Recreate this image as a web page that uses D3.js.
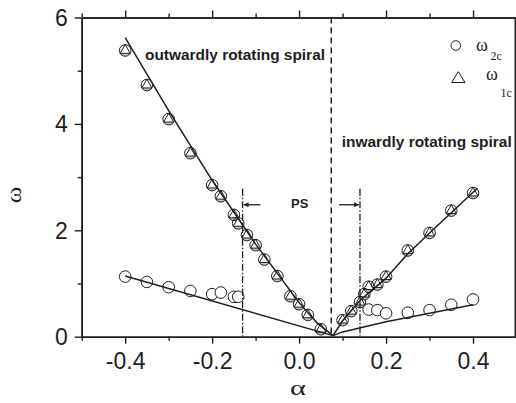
<!DOCTYPE html>
<html>
<head>
<meta charset="utf-8">
<script src="https://cdn.jsdelivr.net/npm/d3@7/dist/d3.min.js"></script>
<style>
  html, body { margin: 0; padding: 0; background: #fff; }
  svg { display: block; }
</style>
</head>
<body>
<div id="chart"></div>
<script>
// upper branch: omega_1c and omega_2c coincide (triangle inside circle)
const upperAlpha = [-0.4, -0.35, -0.3, -0.25, -0.2, -0.18, -0.15, -0.14, -0.12, -0.1, -0.08, -0.05, -0.02, 0, 0.02, 0.05,
  0.1, 0.12, 0.14, 0.15, 0.16, 0.18, 0.2, 0.25, 0.3, 0.35, 0.4];
const upperOmega = [5.38, 4.73, 4.09, 3.45, 2.85, 2.64, 2.29, 2.13, 1.91, 1.72, 1.45, 1.14, 0.76, 0.61, 0.41, 0.14,
  0.31, 0.48, 0.65, 0.80, 0.94, 0.98, 1.13, 1.62, 1.95, 2.37, 2.70];

// lower branch: omega_2c only (circles)
const lowerAlpha = [-0.4, -0.35, -0.3, -0.25, -0.2, -0.18, -0.15, -0.14, 0.16, 0.18, 0.2, 0.25, 0.3, 0.35, 0.4];
const lowerOmega = [1.13, 1.03, 0.93, 0.86, 0.80, 0.83, 0.75, 0.75, 0.51, 0.50, 0.44, 0.45, 0.50, 0.60, 0.70];

// fitted lines
const fitUpperLeftAlpha = [-0.4, -0.3, -0.2, -0.1, 0, 0.04, 0.078];
const fitUpperLeftOmega = [5.62, 4.25, 2.94, 1.74, 0.64, 0.27, 0.02];
const fitUpperRightAlpha = [0.078, 0.1, 0.14, 0.2, 0.25, 0.3, 0.41];
const fitUpperRightOmega = [0.02, 0.3, 0.68, 1.1, 1.56, 1.95, 2.79];
const fitLowerLeftAlpha = [-0.4, 0.078];
const fitLowerLeftOmega = [1.14, 0.02];
const fitLowerRightAlpha = [0.078, 0.1, 0.2, 0.3, 0.4];
const fitLowerRightOmega = [0.02, 0.09, 0.28, 0.44, 0.6];

// boundaries
const borderAlpha = 0.074;
const psAlpha = [-0.13, 0.14];
const psTop = 2.78;
const arrowOmega = 2.48;
const arrowFrom = [-0.089, 0.092];

// ticks
const xMajor = [-0.4, -0.2, 0, 0.2, 0.4];
const xTickLabels = ['-0.4', '-0.2', '0.0', '0.2', '0.4'];
const xMinor = [-0.5, -0.3, -0.1, 0.1, 0.3];
const yMajor = [0, 2, 4, 6];
const yTickLabels = ['0', '2', '4', '6'];
const yMinor = [1, 3, 5];

const width = 516, height = 403;
const mLeft = 81.7, mRight = 516.5, mTop = 17.5, mBottom = 336.7;
const ink = '#1e1e1e';
const sans = '"Liberation Sans", Arial, sans-serif';
const serif = '"Liberation Serif", "Times New Roman", serif';

const svg = d3.select('#chart').append('svg')
  .attr('width', width)
  .attr('height', height);

const x = d3.scaleLinear().domain([-0.5, 0.5]).range([mLeft, mRight]);
const y = d3.scaleLinear().domain([0, 6]).range([mBottom, mTop]);

const zip = (a, b) => a.map((v, i) => [v, b[i]]);
const line = d3.line().x(d => x(d[0])).y(d => y(d[1]));

// markers
const r = 5.8;
const cs = Math.cos(Math.PI / 6) * r, sn = Math.sin(Math.PI / 6) * r;

const upper = svg.append('g').selectAll('g')
  .data(zip(upperAlpha, upperOmega))
  .enter().append('g')
  .attr('transform', d => `translate(${x(d[0])},${y(d[1])})`);

upper.append('path')
  .attr('d', `M${-cs},${sn}A${r},${r} 0 0 0 ${cs},${sn}Z`)
  .attr('fill', '#c4c4c4');
upper.append('circle')
  .attr('r', r)
  .attr('fill', 'none')
  .attr('stroke', ink)
  .attr('stroke-width', 1);
upper.append('path')
  .attr('d', `M0,${-r}L${cs},${sn}L${-cs},${sn}Z`)
  .attr('fill', 'none')
  .attr('stroke', ink)
  .attr('stroke-width', 1);

svg.append('g').selectAll('circle')
  .data(zip(lowerAlpha, lowerOmega))
  .enter().append('circle')
  .attr('cx', d => x(d[0]))
  .attr('cy', d => y(d[1]))
  .attr('r', r)
  .attr('fill', '#fff')
  .attr('stroke', ink)
  .attr('stroke-width', 1);

// fit lines
[
  zip(fitUpperLeftAlpha, fitUpperLeftOmega),
  zip(fitUpperRightAlpha, fitUpperRightOmega),
  zip(fitLowerLeftAlpha, fitLowerLeftOmega),
  zip(fitLowerRightAlpha, fitLowerRightOmega)
].forEach(pts => {
  svg.append('path')
    .attr('d', line(pts))
    .attr('fill', 'none')
    .attr('stroke', ink)
    .attr('stroke-width', 1.5);
});

// dashed border between spirals
svg.append('line')
  .attr('x1', x(borderAlpha)).attr('x2', x(borderAlpha))
  .attr('y1', y(6)).attr('y2', y(0))
  .attr('stroke', ink)
  .attr('stroke-width', 1.5)
  .attr('stroke-dasharray', '6,4');

// dash-dot PS limits
psAlpha.forEach(a => {
  svg.append('line')
    .attr('x1', x(a)).attr('x2', x(a))
    .attr('y1', y(psTop)).attr('y2', y(0))
    .attr('stroke', ink)
    .attr('stroke-width', 1.3)
    .attr('stroke-dasharray', '7,2,1.5,2');
});

// arrows
svg.append('defs').append('marker')
  .attr('id', 'head')
  .attr('viewBox', '0 0 10 10')
  .attr('refX', 10).attr('refY', 5)
  .attr('markerWidth', 6).attr('markerHeight', 5)
  .attr('markerUnits', 'userSpaceOnUse')
  .attr('orient', 'auto')
  .append('path')
  .attr('d', 'M0,0L10,5L0,10Z')
  .attr('fill', ink);

psAlpha.forEach((a, i) => {
  svg.append('line')
    .attr('x1', x(arrowFrom[i])).attr('x2', x(a) + (i === 0 ? 1 : -1))
    .attr('y1', y(arrowOmega)).attr('y2', y(arrowOmega))
    .attr('stroke', ink)
    .attr('stroke-width', 1.3)
    .attr('marker-end', 'url(#head)');
});

svg.append('text')
  .attr('x', x((arrowFrom[0] + arrowFrom[1]) / 2))
  .attr('y', 207.7)
  .attr('text-anchor', 'middle')
  .style('font-family', sans)
  .style('font-size', '13px')
  .style('font-weight', 'bold')
  .style('fill', ink)
  .text('PS');

// region labels
svg.append('text')
  .attr('x', 145).attr('y', 59.5)
  .attr('textLength', 180).attr('lengthAdjust', 'spacingAndGlyphs')
  .style('font-family', sans).style('font-size', '14px').style('font-weight', 'bold')
  .style('fill', ink)
  .text('outwardly rotating spiral');

svg.append('text')
  .attr('x', 341.7).attr('y', 146.5)
  .attr('textLength', 170).attr('lengthAdjust', 'spacingAndGlyphs')
  .style('font-family', sans).style('font-size', '14px').style('font-weight', 'bold')
  .style('fill', ink)
  .text('inwardly rotating spiral');

// axes
const axisStyle = g => {
  g.select('.domain').attr('stroke', ink).attr('stroke-width', 1.6);
  g.selectAll('.tick line').attr('stroke', ink).attr('stroke-width', 1.4);
  g.selectAll('text')
    .style('font-family', sans)
    .style('font-size', '23px')
    .attr('fill', ink);
};

svg.append('g')
  .attr('transform', `translate(0,${mBottom})`)
  .call(d3.axisBottom(x).tickValues(xMinor).tickSize(4).tickSizeOuter(0).tickFormat(''))
  .call(axisStyle);
svg.append('g')
  .attr('transform', `translate(0,${mBottom})`)
  .call(d3.axisBottom(x).tickValues(xMajor).tickSize(7).tickSizeOuter(0)
    .tickFormat((d, i) => xTickLabels[i]))
  .call(axisStyle)
  .call(g => g.selectAll('text').attr('y', 32.8).attr('dy', null));

svg.append('g')
  .attr('transform', `translate(0,${mTop})`)
  .call(d3.axisTop(x).tickValues(xMinor).tickSize(4).tickSizeOuter(0).tickFormat(''))
  .call(axisStyle);
svg.append('g')
  .attr('transform', `translate(0,${mTop})`)
  .call(d3.axisTop(x).tickValues(xMajor).tickSize(7).tickSizeOuter(0).tickFormat(''))
  .call(axisStyle);

svg.append('g')
  .attr('transform', `translate(${mLeft},0)`)
  .call(d3.axisLeft(y).tickValues(yMinor).tickSize(4).tickSizeOuter(0).tickFormat(''))
  .call(axisStyle);
svg.append('g')
  .attr('transform', `translate(${mLeft},0)`)
  .call(d3.axisLeft(y).tickValues(yMajor).tickSize(7).tickSizeOuter(0)
    .tickFormat((d, i) => yTickLabels[i]))
  .call(axisStyle)
  .call(g => g.selectAll('text').attr('x', -14).attr('dy', '0.35em'));

// right frame
svg.append('line')
  .attr('x1', 515.3).attr('x2', 515.3)
  .attr('y1', mTop).attr('y2', mBottom)
  .attr('stroke', ink)
  .attr('stroke-width', 1.6);

// axis titles (glyphs in the figure are stretched sideways)
svg.append('text')
  .attr('transform', 'translate(21,195) rotate(-90) scale(1.25,1)')
  .attr('text-anchor', 'middle')
  .style('font-family', serif)
  .style('font-size', '20px')
  .style('fill', ink)
  .text('ω');

svg.append('text')
  .attr('transform', 'translate(298,394.5) scale(1.45,1)')
  .attr('text-anchor', 'middle')
  .style('font-family', serif)
  .style('font-size', '21px')
  .style('fill', ink)
  .text('α');

// legend
const legend = svg.append('g');
legend.append('circle')
  .attr('cx', 455.8).attr('cy', 45.5).attr('r', 4.8)
  .attr('fill', 'none').attr('stroke', ink).attr('stroke-width', 1);
legend.append('path')
  .attr('d', 'M458.3,71.7L465,82.5L451.6,82.5Z')
  .attr('fill', 'none').attr('stroke', ink).attr('stroke-width', 1);

const legendText = [
  { x: 476, y: 50.7, sx: 490.5, sy: 60, sub: '2c' },
  { x: 486, y: 79.5, sx: 500.5, sy: 96.7, sub: '1c' }
];
legendText.forEach(t => {
  legend.append('text')
    .attr('x', t.x).attr('y', t.y)
    .style('font-family', serif).style('font-size', '18px').style('fill', ink)
    .text('ω');
  legend.append('text')
    .attr('x', t.sx).attr('y', t.sy)
    .style('font-family', serif).style('font-size', '12px').style('fill', ink)
    .text(t.sub);
});
</script>
</body>
</html>
